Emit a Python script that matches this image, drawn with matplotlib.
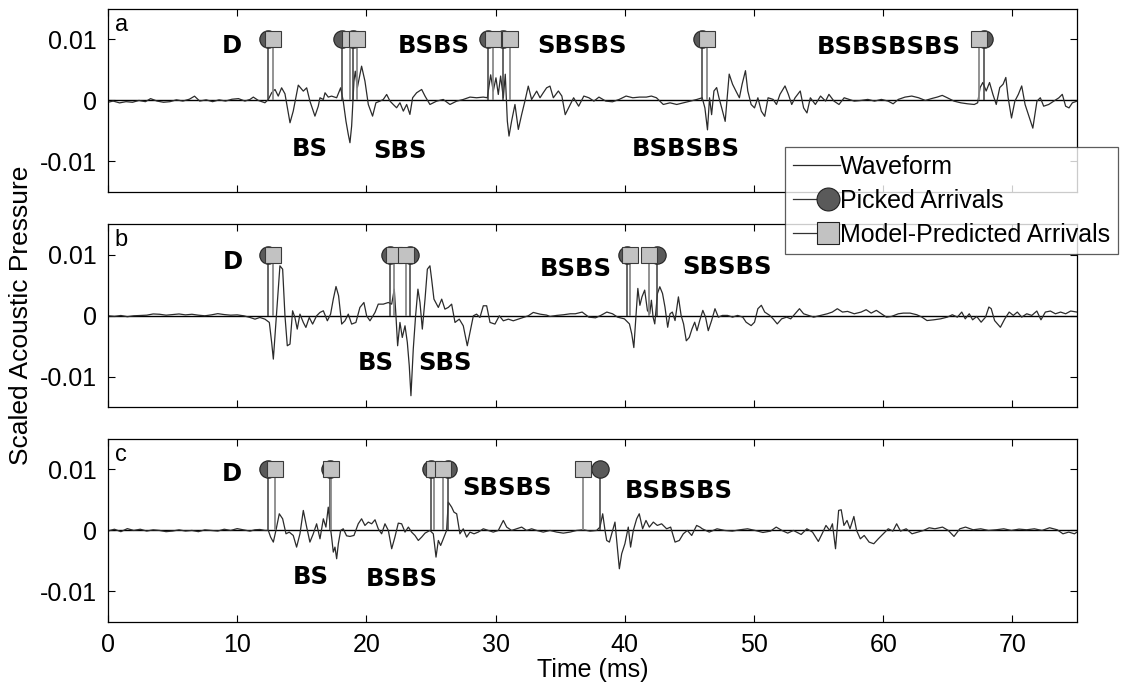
import numpy as np
import matplotlib
matplotlib.use("Agg")
import matplotlib.pyplot as plt
from matplotlib.lines import Line2D
from matplotlib.legend_handler import HandlerBase

plt.rcParams['font.family'] = ['Liberation Sans', 'DejaVu Sans']

# waveform samples: time in ms, pressure in units of 1e-3
t_a = [0, 0.4, 0.9, 1.4, 1.9, 2.4, 2.9, 3.3, 3.8, 4.3, 4.8, 5.3, 5.8, 6.3, 6.7, 7.1, 7.6, 8.1, 8.6, 9.1, 9.6, 10.1, 10.6,
       10.99, 11.25, 11.64, 12.15, 12.41, 12.67, 12.93, 13.18, 13.44, 13.70, 14.09, 14.34, 14.73, 15.12, 15.38, 15.63,
       16.02, 16.28, 16.41, 16.67, 16.80, 17.05, 17.31, 17.70, 18.01, 18.21, 18.42, 18.60, 18.73, 18.86, 19.04, 19.14,
       19.30, 19.63, 19.89, 20.15, 20.48, 20.74, 21.05, 21.31, 21.57, 21.83, 22.08, 22.34, 22.60, 22.86, 23.12, 23.37,
       23.58, 23.89, 24.28, 24.54, 24.92, 25.44, 25.95, 26.47, 26.99, 27.50, 28.02, 28.53, 29.05, 29.36, 29.62, 29.82,
       30.03, 30.21, 30.39, 30.60, 30.75, 30.91, 31.04, 31.24, 31.50, 31.76, 32.02, 32.27, 32.53, 32.79, 33.18, 33.44,
       33.69, 33.95, 34.21, 34.47, 34.86, 35.13, 35.39, 35.65, 36.04, 36.43, 36.83, 37.22, 37.61, 38.00, 38.53, 39.05,
       39.57, 40.10, 40.62, 41.15, 41.67, 42.06, 42.45, 42.98, 43.50, 44.02, 44.55, 45.07, 45.59, 45.99, 46.20, 46.40,
       46.56, 46.72, 46.90, 47.11, 47.29, 47.50, 47.77, 48.08, 48.34, 48.60, 48.87, 49.08, 49.34, 49.52, 49.78, 50.04,
       50.30, 50.57, 50.83, 51.09, 51.48, 51.74, 52.01, 52.40, 52.66, 52.92, 53.18, 53.58, 53.84, 54.10, 54.36, 54.75,
       55.15, 55.54, 55.80, 56.19, 56.58, 56.98, 57.37, 57.76, 58.29, 58.81, 59.33, 59.86, 60.38, 60.77, 61.17, 61.69,
       62.21, 62.74, 63.26, 63.78, 64.18, 64.57, 64.96, 65.48, 66.01, 66.53, 67.05, 67.31, 67.50, 67.71, 67.97, 68.23,
       68.49, 68.75, 69.02, 69.28, 69.49, 69.67, 69.93, 70.19, 70.46, 70.72, 70.98, 71.24, 71.58, 71.90, 72.16, 72.42,
       72.81, 73.20, 73.60, 73.86, 74.12, 74.38, 74.64, 75.0]
p_a = [-0.3, -0.1, -0.4, -0.2, -0.3, 0.0, -0.2, 0.3, -0.1, -0.3, -0.2, 0.1, -0.1, 0.2, 0.7, -0.1, 0.1, -0.2, 0.1, -0.1, 0.2, 0.3, -0.1,
       0.16, 0.55, 0.0, -0.38, 0.16, 1.26, 1.80, 0.71, 2.07, 1.09, -3.66, -1.75, 2.51, 1.53, 2.07, -0.11,
       -2.57, -0.93, 0.44, 0.16, 1.26, 0.55, 0.71, 0.44, 2.07, -0.11, -3.39, -5.57, -6.93, -4.20, 3.17, 4.80,
       2.07, 5.62, 3.17, -0.66, -2.57, -0.38, -0.11, 0.16, 0.98, -0.11, -0.66, -1.20, -0.38, -1.75, -0.66, -2.29,
       0.44, 1.26, 1.80, 0.71, -0.66, -0.11, 0.16, -0.66, -0.11, 0.16, 0.55, 0.44, 0.55, 0.44, 4.2, 1.53,
       3.71, 0.98, 4.0, 0.44, 4.3, -3.39, -5.84, -3.39, -0.66, -4.75, -2.29, -0.11, 2.35, 0.16, 1.53, 0.44,
       1.26, 2.07, 2.35, 0.44, 1.55, 0.72, -2.33, -1.22, 0.44, -0.94, 0.72, 0.44, -0.11, 0.55, -0.11, -0.22,
       0.17, 0.72, 0.44, 0.55, 0.55, 0.72, 0.44, -0.66, -0.39, -0.66, -0.39, -0.11, 0.17, 0.44, -1.22, -4.82,
       0.44, -2.33, 1.55, 2.11, 0.44, -1.22, -3.43, 4.32, 2.66, 1.55, 0.44, 2.66, 4.88, 1.55, -0.66, -1.22,
       0.44, -1.77, -2.60, 0.44, 0.17, -0.66, 1.00, 2.38, 1.00, -0.66, 0.44, 1.55, -1.22, -2.05, 0.44, -0.66,
       0.72, -0.11, 1.00, -0.11, -0.66, 0.44, 0.17, -0.11, 0.0, 0.17, -0.11, 0.17, -0.11, -0.55, 0.17, 0.55,
       0.72, 0.44, 0.0, 0.33, 0.55, 0.83, 0.44, -0.11, -0.39, -0.55, -0.66, -0.39, 2.11, 2.94, 1.55, 2.94,
       1.00, -0.66, 2.11, 2.66, 3.77, 0.44, -2.88, -0.11, 1.00, 2.38, -0.66, -2.33, -4.54, -0.11, 0.44, -0.94,
       -0.66, -0.11, 0.44, 1.00, -0.94, -1.22, -0.39, -0.11]

t_b = [0, 0.5, 1.0, 1.5, 2.0, 2.5, 3.0, 3.5, 4.0, 4.5, 5.0, 5.5, 6.0, 6.5, 7.0, 7.5, 8.0, 8.5, 9.0, 9.5, 10.0, 10.5,
       10.99, 11.38, 11.76, 12.15, 12.49, 12.67, 12.80, 13.00, 13.18, 13.31, 13.52, 13.70, 13.88, 14.09, 14.29, 14.47,
       14.65, 14.86, 15.12, 15.32, 15.58, 15.84, 16.15, 16.41, 16.67, 16.98, 17.23, 17.44, 17.65, 17.85, 18.09, 18.34,
       18.60, 18.86, 19.19, 19.50, 19.81, 20.02, 20.28, 20.67, 20.92, 21.31, 21.70, 21.96, 22.16, 22.29, 22.42, 22.60,
       22.78, 22.99, 23.17, 23.32, 23.45, 23.63, 23.81, 23.99, 24.15, 24.33, 24.54, 24.72, 24.92, 25.05, 25.23, 25.57,
       25.83, 26.08, 26.34, 26.60, 26.86, 27.19, 27.50, 27.81, 28.02, 28.28, 28.53, 28.79, 29.05, 29.31, 29.57, 29.95,
       30.29, 30.60, 30.99, 31.37, 31.76, 32.15, 32.53, 32.92, 33.44, 33.95, 34.21, 34.73, 35.26, 35.78, 36.17, 36.70,
       37.22, 37.74, 38.14, 38.61, 39.05, 39.44, 39.97, 40.36, 40.54, 40.70, 40.88, 41.01, 41.17, 41.33, 41.54, 41.75,
       41.93, 42.06, 42.19, 42.32, 42.53, 42.71, 42.92, 43.11, 43.32, 43.50, 43.68, 43.89, 44.15, 44.36, 44.55, 44.76,
       44.99, 45.20, 45.41, 45.59, 45.80, 46.04, 46.25, 46.46, 46.72, 46.98, 47.24, 47.56, 47.95, 48.34, 48.73, 49.13,
       49.39, 49.78, 50.04, 50.30, 50.57, 50.83, 51.22, 51.48, 51.80, 52.14, 52.53, 52.84, 53.18, 53.52, 53.84, 54.23,
       54.62, 55.15, 55.67, 56.06, 56.45, 56.85, 57.24, 57.76, 58.29, 58.68, 59.07, 59.47, 59.86, 60.25, 60.64, 61.17,
       61.56, 62.08, 62.60, 63.00, 63.39, 63.91, 64.44, 64.96, 65.35, 65.74, 66.08, 66.35, 66.66, 66.92, 67.24, 67.58,
       67.92, 68.18, 68.36, 68.62, 69.07, 69.41, 69.75, 70.07, 70.38, 70.72, 71.11, 71.50, 71.89, 72.21, 72.55, 72.94,
       73.33, 73.73, 74.12, 74.51, 75.0]
p_b = [0.0, -0.1, 0.05, -0.15, 0.0, 0.05, 0.1, 0.3, 0.25, 0.1, 0.2, 0.3, 0.15, 0.25, 0.1, 0.0, 0.15, 0.35, 0.2, 0.1, 0.15, 0.0,
       -0.27, -0.55, -0.27, -0.55, -1.09, -4.37, -7.10, -1.09, 4.37, 8.19, 7.64, 0.0, -4.91, -4.64, 0.82, -0.27,
       -2.18, 0.27, -1.09, -1.91, -0.27, -1.36, 0.0, 0.55, 0.82, -0.82, 0.27, 2.73, 4.80, 3.28, -1.36, -0.82,
       0.27, -1.36, -1.09, 1.37, 2.18, 0.0, -0.82, 0.55, 1.91, 1.91, 2.18, 1.91, 4.37, 0.0, -4.91, -1.09,
       -3.55, -1.64, -4.37, -8.19, -13.1, -5.46, 0.0, 4.37, 2.18, -2.18, 2.73, 7.64, 8.19, 6.01, 2.73, 1.37,
       2.73, 1.09, 1.37, 1.91, -1.09, -0.55, -1.64, -4.91, -2.73, 0.0, 0.27, -0.27, 1.64, 1.64, -1.09, -1.36,
       0.0, -0.82, -0.55, -0.82, -0.55, -0.27, 0.0, 0.55, 0.27, 0.11, -0.11, 0.06, 0.17, 0.33, 0.33, 0.61,
       -0.22, -0.33, 0.06, 0.61, 0.33, -0.22, -0.50, -1.33, -2.99, -5.21, 0.33, 4.49, 1.72, 3.10, 4.21, 0.89,
       0.33, 2.55, -0.22, -1.33, 3.66, 4.76, 3.66, 1.44, -1.88, 0.33, 0.61, -0.78, 3.10, 0.06, -1.33, -4.10,
       -3.55, -2.16, -1.05, -2.44, -0.78, 0.89, -0.22, -2.44, -0.78, 1.16, -0.22, 0.06, 0.06, -0.22, 0.06, -0.22,
       -1.05, -1.61, -1.05, 1.16, 1.72, 0.61, 0.06, -0.50, -1.33, -0.50, -0.22, -0.50, 0.33, 1.16, 0.33, 0.06,
       -0.22, 0.06, 0.33, 0.61, 1.16, 0.61, 0.72, 0.33, 0.61, 1.00, 0.44, 0.89, 0.33, -0.22, -0.11, 0.33,
       0.44, 0.44, 0.17, -0.22, -0.78, -0.66, -0.50, -0.22, 0.17, -0.22, 0.61, -0.50, 0.33, -0.66, -0.11, -1.05,
       -0.22, 1.44, 1.16, -0.78, -1.88, -0.50, 0.61, 0.06, 0.61, -0.22, 0.33, 0.06, 0.78, -0.66, 0.61, 0.78,
       0.33, 0.61, 0.33, 0.78, 0.61]

t_c = [0, 0.5, 1.0, 1.5, 2.0, 2.5, 3.0, 3.5, 4.0, 4.5, 5.0, 5.5, 6.0, 6.5, 7.0, 7.5, 8.0, 8.5, 9.0, 9.5, 10.0, 10.5,
       10.99, 11.38, 11.76, 12.15, 12.41, 12.59, 12.80, 13.00, 13.26, 13.52, 13.78, 14.03, 14.34, 14.60, 14.86, 15.12,
       15.38, 15.63, 15.89, 16.15, 16.41, 16.67, 16.87, 17.05, 17.18, 17.31, 17.44, 17.57, 17.70, 17.83, 18.01, 18.21,
       18.47, 18.73, 19.04, 19.37, 19.63, 19.89, 20.15, 20.41, 20.67, 20.92, 21.18, 21.44, 21.70, 21.96, 22.21, 22.47,
       22.73, 22.99, 23.25, 23.50, 23.76, 24.02, 24.28, 24.54, 24.92, 25.18, 25.39, 25.57, 25.75, 25.95, 26.21, 26.34,
       26.60, 26.78, 26.99, 27.24, 27.50, 27.76, 28.02, 28.33, 28.66, 29.05, 29.44, 29.82, 30.21, 30.60, 30.86, 31.24,
       31.63, 32.02, 32.40, 32.79, 33.18, 33.69, 34.21, 34.73, 35.24, 35.76, 36.27, 36.79, 37.31, 37.82, 38.08, 38.29,
       38.47, 38.60, 38.81, 38.99, 39.24, 39.42, 39.58, 39.76, 40.01, 40.27, 40.45, 40.66, 40.92, 41.12, 41.38, 41.64,
       41.90, 42.21, 42.52, 42.85, 43.24, 43.55, 43.89, 44.22, 44.53, 44.84, 45.18, 45.56, 45.82, 46.0, 46.54, 47.14,
       47.73, 48.32, 48.91, 49.50, 50.09, 50.69, 51.28, 51.72, 52.16, 52.61, 53.05, 53.65, 54.09, 54.53, 54.98, 55.27,
       55.57, 55.86, 56.07, 56.31, 56.55, 56.75, 56.96, 57.20, 57.43, 57.73, 57.94, 58.23, 58.53, 58.91, 59.27, 59.62,
       60.01, 60.39, 60.75, 61.04, 61.34, 61.78, 62.23, 62.67, 63.12, 63.56, 64.00, 64.59, 65.04, 65.48, 65.93, 66.37,
       66.96, 67.55, 68.15, 68.74, 69.33, 69.92, 70.51, 71.10, 71.70, 72.29, 72.88, 73.47, 73.91, 74.36, 74.80, 75.0]
p_c = [-0.1, 0.2, -0.2, 0.3, 0.0, 0.2, -0.1, 0.1, 0.0, -0.2, -0.1, 0.1, -0.1, 0.0, -0.2, 0.1, 0.0, -0.1, 0.2, 0.0, 0.3, 0.1,
       -0.11, 0.11, 0.16, 0.0, 0.0, -1.09, -1.91, 0.0, 2.73, 1.91, -0.55, -0.27, -0.82, -2.73, -0.55, 3.28,
       0.55, -1.91, -0.55, 1.09, -1.37, 1.91, 0.55, 3.82, 1.09, -1.09, -3.55, -2.73, -4.64, -2.18, 0.0, 0.27,
       -0.88, -0.98, -0.82, 1.09, 1.91, 0.82, 1.37, 1.09, 1.75, 0.27, -0.55, 1.09, 0.0, -3.00, -1.09, 1.20,
       1.09, -0.27, 0.55, -0.27, -0.82, -1.64, -1.09, -0.44, 0.0, -0.55, -4.37, -1.64, -2.46, -1.37, 0.0, 4.64,
       3.82, 3.00, 2.73, -0.55, 0.27, -1.09, -0.27, -0.55, -0.27, 0.27, 0.0, -0.27, 0.0, 1.64, 0.55, 0.0,
       0.27, 0.55, 0.0, 0.27, 0.0, -0.27, 0.0, -0.27, -0.44, -0.27, 0.0, 0.11, -0.11, 0.0, 0.55, 2.73,
       0.0, -1.64, -1.91, -0.55, 1.37, -2.73, -6.28, -3.82, -2.18, 0.55, -2.73, 0.0, 1.91, 2.73, 0.27, 1.64,
       0.55, 1.37, 0.82, 1.09, 0.27, 0.55, -1.91, -1.64, -0.55, 0.0, -0.82, 0.82, 0.55, 0.27, -0.27, 0.27,
       0.0, -0.11, 0.11, 0.27, 0.0, -0.33, -0.11, 0.55, 0.0, -0.44, 0.0, -0.66, 0.27, -0.27, -1.80, -0.55,
       0.82, 0.0, 1.09, -3.00, 3.28, 3.39, 0.82, 1.64, 0.27, 2.29, 0.0, -1.37, -0.82, -1.91, -2.18, -1.37,
       -0.55, 0.27, -0.11, 1.09, -0.11, 0.27, -0.55, -0.27, 0.0, 0.44, 0.27, 0.55, 0.0, -0.98, 0.27, 0.55,
       0.11, 0.27, 0.0, 0.11, 0.27, 0.0, 0.22, 0.11, 0.27, 0.0, 0.44, 0.11, -0.55, -0.27, -0.55, -0.27]

# arrival times (ms)
picked_a = [12.4, 18.1, 19.0, 29.4, 30.6, 46.0, 67.8]
model_a = [12.8, 18.7, 19.3, 29.8, 31.1, 46.4, 67.4]
picked_b = [12.4, 21.8, 23.4, 40.2, 42.5]
model_b = [12.8, 22.1, 23.1, 40.4, 41.9]
picked_c = [12.35, 17.2, 25.0, 26.3, 38.1]
model_c = [12.95, 17.3, 25.2, 25.9, 36.8]

# ray path labels: text, time (ms), pressure
labels_a = [("D", 9.6, 9.0), ("BS", 15.6, -7.9), ("SBS", 22.6, -8.3), ("BSBS", 25.2, 9.0),
            ("SBSBS", 36.7, 8.9), ("BSBSBS", 44.7, -8.0), ("BSBSBSBS", 60.4, 8.7)]
labels_b = [("D", 9.7, 8.8), ("BS", 20.7, -7.8), ("SBS", 26.1, -7.8),
            ("BSBS", 36.2, 7.7), ("SBSBS", 47.9, 8.0)]
labels_c = [("D", 9.6, 9.3), ("BS", 15.7, -7.6), ("BSBS", 22.7, -7.9),
            ("SBSBS", 30.9, 6.9), ("BSBSBS", 44.2, 6.4)]

stem_top = 0.01
wave_col = '#2b2b2b'
pick_col = '#5a5a5a'
model_col = '#c2c2c2'

fig = plt.figure(figsize=(11.28, 6.88), dpi=100)
boxes = [[0.0957, 0.721, 0.8591, 0.266],
         [0.0957, 0.408, 0.8591, 0.266],
         [0.0957, 0.096, 0.8591, 0.266]]
panels = [(t_a, p_a, picked_a, model_a, labels_a, 'a'),
          (t_b, p_b, picked_b, model_b, labels_b, 'b'),
          (t_c, p_c, picked_c, model_c, labels_c, 'c')]

for i, (t, p, pk, md, labs, letter) in enumerate(panels):
    ax = fig.add_axes(boxes[i])
    ax.axhline(0, color='black', lw=1.0, zorder=1)
    ax.plot(t, np.array(p) * 1e-3, color=wave_col, lw=0.9, zorder=2)
    ax.vlines(pk, 0, stem_top, color='#3c3c3c', lw=1.1, zorder=3)
    ax.vlines(md, 0, stem_top, color='#8a8a8a', lw=1.3, zorder=3)
    ax.plot(pk, [stem_top] * len(pk), 'o', ms=12.5, mfc=pick_col, mec='#222222', mew=0.8, zorder=4)
    ax.plot(md, [stem_top] * len(md), 's', ms=11.5, mfc=model_col, mec='#3a3a3a', mew=0.8, zorder=5)
    for txt, x, y in labs:
        ax.text(x, y * 1e-3, txt, ha='center', va='center', fontsize=17.5,
                family='DejaVu Sans', fontweight='bold', zorder=6)
    ax.text(0.007, 0.975, letter, transform=ax.transAxes, ha='left', va='top', fontsize=17)
    ax.set_xlim(0, 75)
    ax.set_ylim(-0.015, 0.015)
    ax.set_yticks([-0.01, 0, 0.01])
    ax.set_yticklabels(['-0.01', '0', '0.01'])
    ax.set_xticks(range(0, 80, 10))
    ax.tick_params(direction='in', top=True, right=True, length=5, width=0.8,
                   labelsize=18, colors='black', pad=8)
    if i < 2:
        ax.set_xticklabels([])
    else:
        ax.set_xlabel('Time (ms)', fontsize=18, labelpad=1)
    for s in ax.spines.values():
        s.set_linewidth(0.9)

fig.text(0.019, 0.541, 'Scaled Acoustic Pressure', rotation=90, ha='center', va='center', fontsize=19)


class StemHandle(HandlerBase):
    def __init__(self, marker, ms, fc):
        super().__init__()
        self.marker, self.ms, self.fc = marker, ms, fc

    def create_artists(self, legend, orig_handle, xdescent, ydescent, width, height, fontsize, trans):
        y = height / 2 - ydescent
        x0, x1 = -xdescent, width - xdescent
        ln = Line2D([x0, x1 - 9], [y, y], color='#333333', lw=0.9, transform=trans)
        mk = Line2D([x1 - 9], [y], marker=self.marker, ms=self.ms, mfc=self.fc,
                    mec='#222222', mew=0.8, ls='none', transform=trans)
        return [ln, mk]


h_wave = Line2D([], [], color=wave_col, lw=0.9)
h_pick = Line2D([], [], marker='o')
h_model = Line2D([], [], marker='s')
leg = fig.legend([h_wave, h_pick, h_model],
                 ['Waveform', 'Picked Arrivals', 'Model-Predicted Arrivals'],
                 handler_map={h_pick: StemHandle('o', 16.5, pick_col),
                              h_model: StemHandle('s', 15.5, model_col)},
                 loc='upper left', bbox_to_anchor=(0.696, 0.786), fontsize=18,
                 frameon=True, fancybox=False, borderpad=0.3, labelspacing=0.4,
                 handlelength=1.9, handletextpad=0.0, borderaxespad=0)
leg.get_frame().set_edgecolor('#333333')
leg.get_frame().set_linewidth(0.9)

fig.savefig('out.png', dpi=100)
